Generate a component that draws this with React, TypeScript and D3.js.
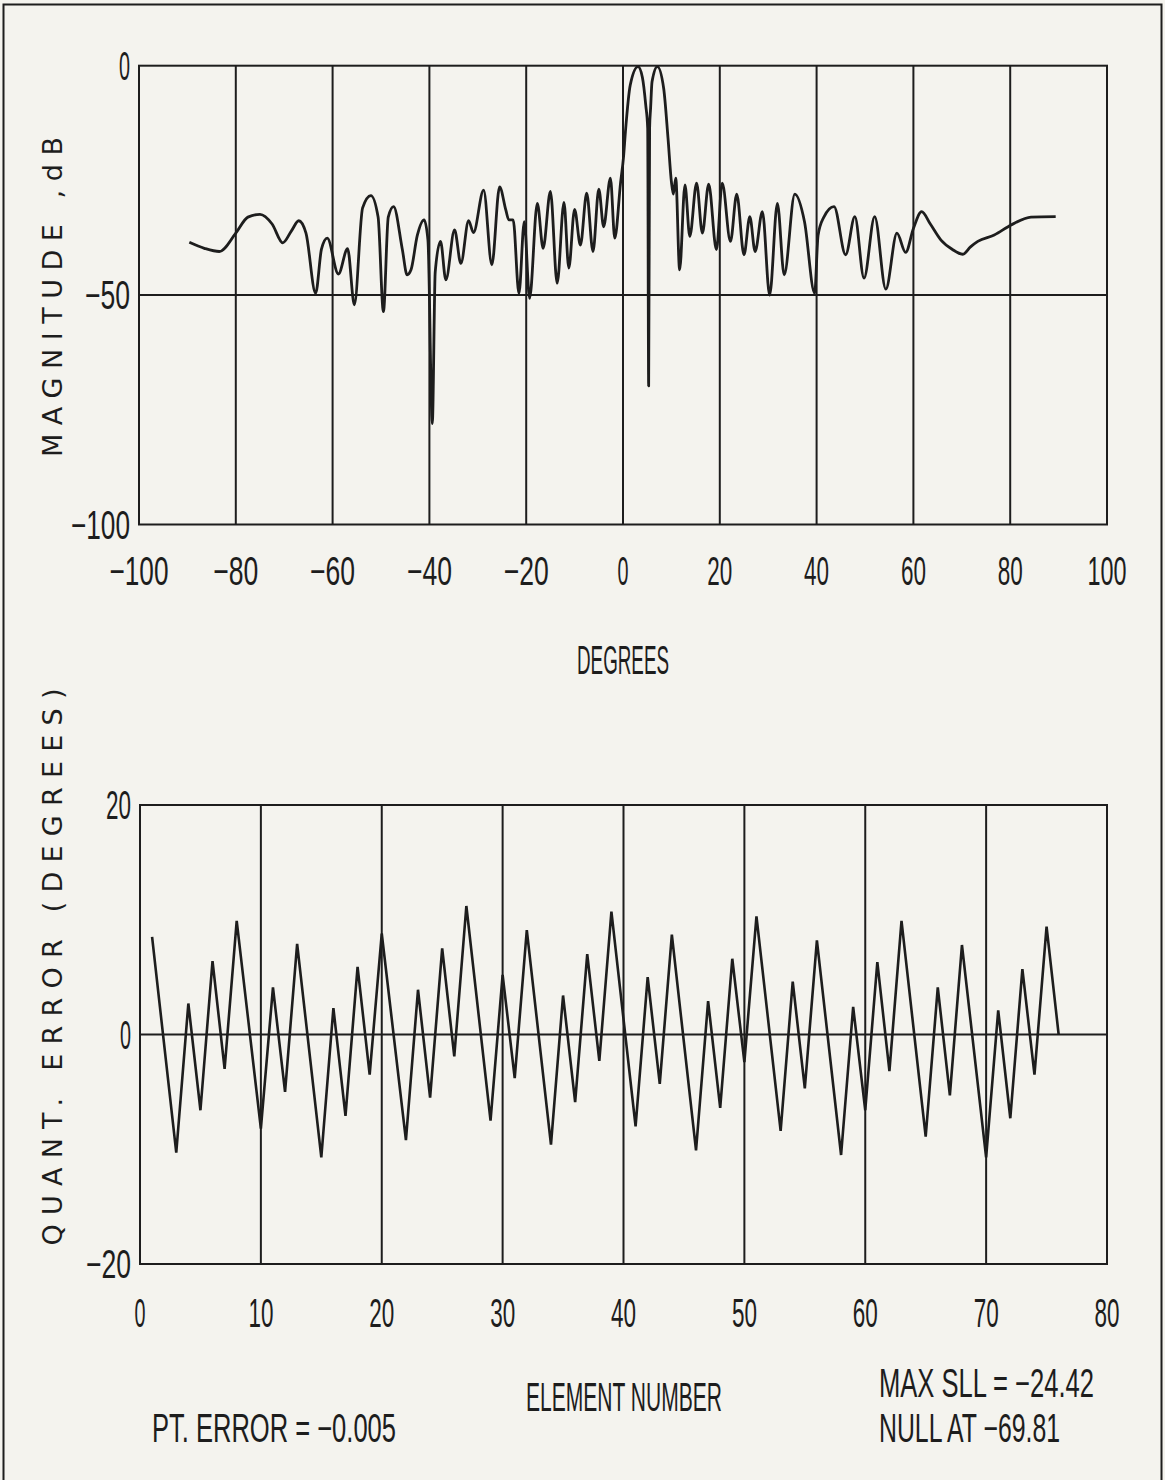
import React from 'react';
import * as d3 from 'd3';

// ---------- DATA ----------
// Top plot: array pattern (degrees, dB)
const patternDeg = [
  -89.6, -86.5, -83.4, -80.0, -77.5, -75.0, -72.5, -70.3, -68.5, -67.0,
  -65.5, -63.5, -62.3, -61.1, -58.8, -56.9, -55.5, -53.8, -52.1, -50.6,
  -49.5, -48.5, -47.4, -45.6, -44.6, -43.8, -42.5, -41.1, -40.3, -39.4,
  -38.8, -37.7, -36.6, -34.8, -33.5, -31.9, -30.9, -28.8, -27.1, -25.5,
  -24.2, -23.6, -22.7, -21.5, -20.4, -19.3, -17.7, -16.5, -15.0, -13.6,
  -12.2, -11.2, -10.0, -8.8, -7.5, -6.2, -5.0, -4.0, -2.6, -1.7,
  -0.5, 0.1, 0.5, 1.5, 3.1, 4.0, 4.7, 5.1, 5.3, 5.5,
  5.7, 6.0, 7.1, 8.4, 9.3, 10.0, 10.4, 10.9, 11.7, 12.8,
  13.8, 15.2, 16.4, 17.7, 19.3, 20.5, 22.2, 23.5, 25.0, 26.2,
  27.3, 28.8, 30.3, 31.9, 33.3, 35.5, 37.5, 39.6, 40.3, 41.5,
  43.6, 46.0, 47.9, 49.8, 52.0, 54.3, 56.6, 58.4, 60.0, 61.7,
  63.5, 65.7, 68.0, 70.2, 71.8, 73.3, 76.7, 80.2, 84.3, 89.4,
];
const patternDb = [
  -38.5, -39.8, -40.5, -36.5, -33.0, -32.4, -34.5, -38.6, -36.0, -33.8,
  -36.5, -49.6, -40.0, -37.6, -45.4, -39.9, -52.1, -31.0, -28.3, -33.0,
  -53.6, -33.0, -30.7, -40.0, -45.6, -44.5, -37.0, -33.6, -38.0, -78.0,
  -45.0, -38.3, -46.7, -35.8, -43.1, -33.8, -36.4, -27.1, -43.4, -26.4,
  -31.5, -33.6, -33.6, -49.6, -34.0, -50.7, -30.0, -39.8, -27.4, -47.4,
  -29.8, -44.1, -31.3, -39.1, -27.8, -40.5, -26.9, -35.1, -24.5, -37.6,
  -25.5, -20.0, -14.4, -4.2, -0.2, -2.5, -8.6, -13.6, -69.8, -13.5,
  -9.3, -3.5, -0.2, -4.9, -15.8, -25.3, -28.0, -24.5, -44.5, -26.0,
  -37.2, -25.6, -36.5, -25.8, -40.1, -25.6, -38.3, -28.0, -41.2, -32.9,
  -40.5, -31.8, -50.0, -30.0, -45.6, -28.0, -34.0, -49.6, -37.0, -33.0,
  -30.7, -41.2, -32.9, -46.3, -32.9, -48.7, -36.5, -40.7, -35.5, -31.8,
  -34.5, -38.0, -40.0, -41.1, -39.5, -38.3, -36.9, -34.7, -33.0, -32.9,
];

// Bottom plot: quantization error per element (vertices of the trace)
const elementNumbers = [
  1, 3, 4, 5, 6, 7, 8, 10, 11, 12, 13, 15, 16, 17, 18, 19, 20, 22, 23, 24,
  25, 26, 27, 29, 30, 31, 32, 34, 35, 36, 37, 38, 39, 41, 42, 43, 44, 46, 47, 48,
  49, 50, 51, 53, 54, 55, 56, 58, 59, 60, 61, 62, 63, 65, 66, 67, 68, 70, 71, 72,
  73, 74, 75, 76,
];
const quantErrors = [
  8.5, -10.3, 2.7, -6.6, 6.4, -3.0, 9.9, -8.2, 4.1, -5.0, 7.9, -10.7, 2.3, -7.1, 5.9, -3.5, 8.8, -9.2, 3.9, -5.5,
  7.5, -1.9, 11.2, -7.5, 5.2, -3.8, 9.1, -9.6, 3.4, -5.9, 7.0, -2.3, 10.7, -8.0, 5.0, -4.3, 8.7, -10.1, 2.9, -6.4,
  6.6, -2.4, 10.3, -8.4, 4.6, -4.7, 8.2, -10.5, 2.4, -6.6, 6.3, -3.2, 9.9, -8.9, 4.1, -5.3, 7.8, -10.7, 2.1, -7.3,
  5.7, -3.5, 9.4, 0,
];

const topXTicks = [-100, -80, -60, -40, -20, 0, 20, 40, 60, 80, 100];
const topYTicks = [0, -50, -100];
const topGridX = [-80, -60, -40, -20, 0, 20, 40, 60, 80];
const topGridY = [-50];
const botXTicks = [0, 10, 20, 30, 40, 50, 60, 70, 80];
const botYTicks = [20, 0, -20];
const botGridX = [10, 20, 30, 40, 50, 60, 70];
const botGridY = [0];

const topXLabel = 'DEGREES';
const topYLabel = 'MAGNITUDE ,dB';
const botXLabel = 'ELEMENT NUMBER';
const botYLabel = 'QUANT. ERROR (DEGREES)';
const ptErrorText = 'PT. ERROR = \u22120.005';
const maxSllText = 'MAX SLL =  \u221224.42';
const nullText = 'NULL AT \u221269.81';

// ---------- RENDER ----------
const INK = '#1d1d1d';
const PAPER = '#f4f3ee';
const NUM_FONT = '"Liberation Sans", Arial, sans-serif';
const SX = 0.55;

function fmt(v: number) {
  return v < 0 ? '\u2212' + Math.abs(v) : String(v);
}
function tickWidth(s: string) {
  const digits = s.replace(/[^0-9]/g, '').length;
  return digits * 14 - 3 + (s.startsWith('\u2212') ? 20 : 0);
}

// condensed text: horizontally scaled so that its rendered width equals w
function Cond({ x, y, w, children, anchor = 'middle', size = 40 }: any) {
  return (
    <text
      transform={`translate(${x},${y}) scale(${SX},1)`}
      fontSize={size}
      fontFamily={NUM_FONT}
      textAnchor={anchor}
      textLength={w / SX}
      lengthAdjust="spacingAndGlyphs"
      fill={INK}
    >
      {children}
    </text>
  );
}

export default function App() {
  const x1 = d3.scaleLinear().domain([-100, 100]).range([139, 1107]);
  const y1 = d3.scaleLinear().domain([-100, 0]).range([524.5, 65.7]);
  const x2 = d3.scaleLinear().domain([0, 80]).range([140, 1107]);
  const y2 = d3.scaleLinear().domain([-20, 20]).range([1264, 805]);

  const topLine = d3
    .line<number>()
    .x((_d, i) => x1(patternDeg[i]))
    .y((d) => y1(d))
    .curve(d3.curveMonotoneX);
  const botLine = d3
    .line<number>()
    .x((_d, i) => x2(elementNumbers[i]))
    .y((d) => y2(d))
    .curve(d3.curveLinear);

  const [tx0, tx1] = x1.range();
  const [ty0, ty1] = [y1(0), y1(-100)];
  const [bx0, bx1] = x2.range();
  const [by0, by1] = [y2(20), y2(-20)];

  return (
    <svg
      width={1165}
      height={1480}
      style={{ position: 'absolute', left: 0, top: 0, background: PAPER }}
    >
      <rect x={0} y={0} width={1165} height={1480} fill={PAPER} />
      {/* outer page frame */}
      <rect x={3.5} y={4.5} width={1158} height={1500} fill="none" stroke={INK} strokeWidth={2} />

      {/* ---------- TOP PLOT ---------- */}
      <g stroke={INK} strokeWidth={2} fill="none">
        <rect x={tx0} y={ty0} width={tx1 - tx0} height={ty1 - ty0} />
        {topGridX.map((v) => (
          <line key={'tgx' + v} x1={x1(v)} x2={x1(v)} y1={ty0} y2={ty1} />
        ))}
        {topGridY.map((v) => (
          <line key={'tgy' + v} x1={tx0} x2={tx1} y1={y1(v)} y2={y1(v)} />
        ))}
      </g>
      <path
        d={topLine(patternDb) || ''}
        fill="none"
        stroke={INK}
        strokeWidth={2.8}
        strokeLinejoin="round"
      />
      {topXTicks.map((v) => {
        const s = fmt(v);
        return (
          <Cond key={'tx' + v} x={x1(v)} y={585} w={tickWidth(s)}>
            {s}
          </Cond>
        );
      })}
      {topYTicks.map((v) => {
        const s = fmt(v);
        return (
          <Cond key={'ty' + v} x={130} y={y1(v) + 14} w={tickWidth(s)} anchor="end">
            {s}
          </Cond>
        );
      })}
      <Cond x={623} y={674} w={92}>
        {topXLabel}
      </Cond>
      <text
        transform="translate(62,297) rotate(-90)"
        textAnchor="middle"
        fontSize={27}
        fontFamily='"DejaVu Sans", sans-serif'
        textLength={320}
        lengthAdjust="spacing"
        fill={INK}
      >
        {topYLabel}
      </text>

      {/* ---------- BOTTOM PLOT ---------- */}
      <g stroke={INK} strokeWidth={2} fill="none">
        <rect x={bx0} y={by0} width={bx1 - bx0} height={by1 - by0} />
        {botGridX.map((v) => (
          <line key={'bgx' + v} x1={x2(v)} x2={x2(v)} y1={by0} y2={by1} />
        ))}
        {botGridY.map((v) => (
          <line key={'bgy' + v} x1={bx0} x2={bx1} y1={y2(v)} y2={y2(v)} />
        ))}
      </g>
      <path
        d={botLine(quantErrors) || ''}
        fill="none"
        stroke={INK}
        strokeWidth={2.6}
        strokeLinejoin="miter"
      />
      {botXTicks.map((v) => {
        const s = fmt(v);
        return (
          <Cond key={'bx' + v} x={x2(v)} y={1327} w={tickWidth(s)}>
            {s}
          </Cond>
        );
      })}
      {botYTicks.map((v) => {
        const s = fmt(v);
        return (
          <Cond key={'by' + v} x={131} y={y2(v) + 14} w={tickWidth(s)} anchor="end">
            {s}
          </Cond>
        );
      })}
      <Cond x={624} y={1411} w={196}>
        {botXLabel}
      </Cond>
      <Cond x={152} y={1442} w={244} anchor="start">
        {ptErrorText}
      </Cond>
      <Cond x={879} y={1397} w={215} anchor="start">
        {maxSllText}
      </Cond>
      <Cond x={879} y={1442} w={181} anchor="start">
        {nullText}
      </Cond>
      <text
        transform="translate(62,967) rotate(-90)"
        textAnchor="middle"
        fontSize={27}
        fontFamily='"DejaVu Sans", sans-serif'
        textLength={557}
        lengthAdjust="spacing"
        fill={INK}
      >
        {botYLabel}
      </text>
    </svg>
  );
}
